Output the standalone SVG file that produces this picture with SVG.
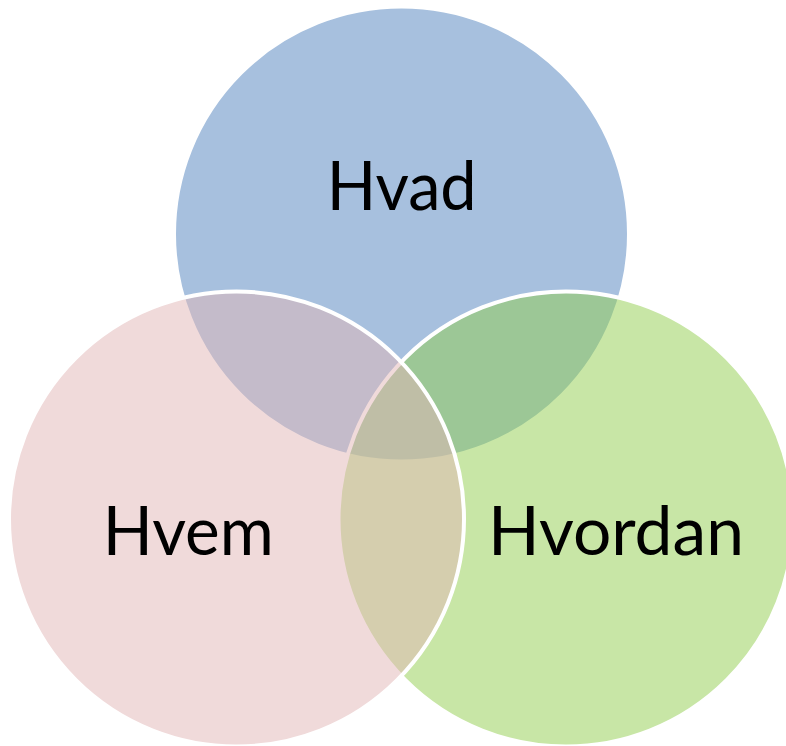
<svg xmlns="http://www.w3.org/2000/svg" width="786" height="746" viewBox="0 0 786 746">
  <style>
    .c { stroke: #ffffff; stroke-width: 4; fill-opacity: 0.5; }
    .blue { fill: #4F81BD; }
    .green { fill: #91CD4D; }
    .pink { fill: #E1B5B5; }
    .lbl { font-family: Lato, "Open Sans", "Liberation Sans", sans-serif; font-size: 68px; fill: #000000; text-anchor: middle; }
  </style>
  <rect width="786" height="746" fill="#ffffff"/>
  <g id="hvad">
    <circle class="c blue" cx="401.5" cy="234" r="227.5"/>
    <text class="lbl" x="401.7" y="210" textLength="150" lengthAdjust="spacingAndGlyphs">Hvad</text>
  </g>
  <g id="hvordan">
    <circle class="c green" cx="566" cy="519" r="227.5"/>
    <text class="lbl" x="616" y="555" textLength="256" lengthAdjust="spacingAndGlyphs">Hvordan</text>
  </g>
  <g id="hvem">
    <circle class="c pink" cx="236.5" cy="519" r="227.5"/>
    <text class="lbl" x="188.3" y="555" textLength="171" lengthAdjust="spacingAndGlyphs">Hvem</text>
  </g>
</svg>
